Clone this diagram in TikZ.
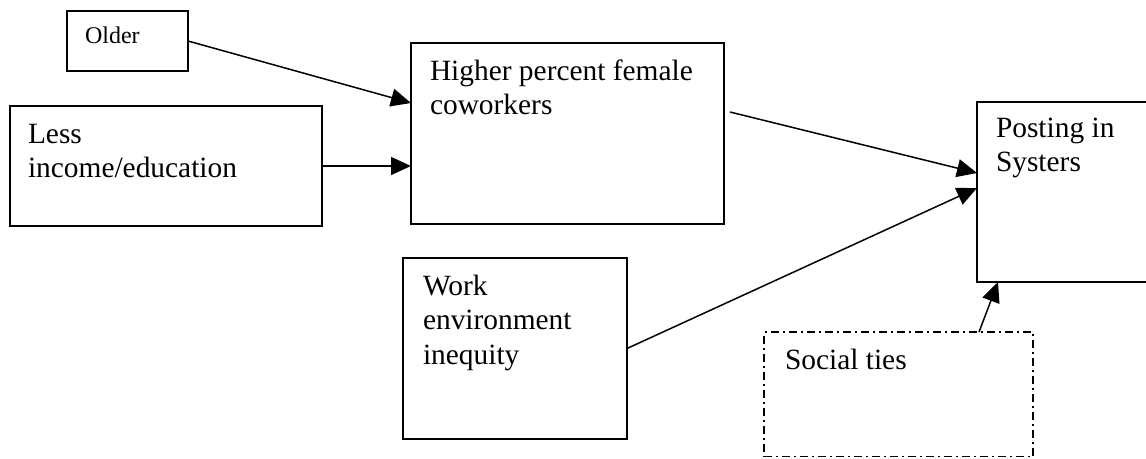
\documentclass[tikz,border=0pt]{standalone}
\usepackage{fontspec}
\setmainfont{Liberation Serif}
\usetikzlibrary{arrows.meta,calc}
\begin{document}
\begin{tikzpicture}[x=1pt,y=-1pt,
  box/.style={draw=black,line width=1.5pt,rectangle,inner sep=0pt,outer sep=0pt,anchor=north west},
  dashbox/.style={box,dash pattern=on 8pt off 4pt on 2pt off 4pt},
  lbl/.style={inner sep=0pt,outer sep=0pt,anchor=base west,align=left,font=\fontsize{29.4}{34.5}\selectfont},
  smalllbl/.style={lbl,font=\fontsize{24}{28}\selectfont},
  arr/.style={line width=1.5pt,-{Triangle[length=20pt,width=18pt]}}]
\useasboundingbox (0,0) rectangle (1146,458);
\node[box,minimum width=121pt,minimum height=60pt] (older) at (67,11) {};
\node[box,minimum width=312pt,minimum height=120pt] (less) at (10,106) {};
\node[box,minimum width=313pt,minimum height=181pt] (higher) at (411,43) {};
\node[box,minimum width=200pt,minimum height=180pt] (posting) at (977,102) {};
\node[box,minimum width=224pt,minimum height=181pt] (work) at (403,258) {};
\node[dashbox,minimum width=269pt,minimum height=124.5pt] (social) at (764,332) {};
\node[smalllbl] (olderT) at ($(older.north west)+(18,32)$) {Older};
\node[lbl] (lessT) at ($(less.north west)+(18,71.5)$) {Less\\income/education};
\node[lbl] (higherT) at ($(higher.north west)+(19,71.5)$) {Higher percent female\\coworkers};
\node[lbl] (postingT) at ($(posting.north west)+(19,69.5)$) {Posting in\\Systers};
\node[lbl] (workT) at ($(work.north west)+(20,106)$) {Work\\environment\\inequity};
\node[lbl] (socialT) at ($(social.north west)+(21,37)$) {Social ties};
\draw[arr] (older.east) -- ($(higher.north west)+(0,60)$);
\draw[arr] (less.east) -- (less.east -| higher.west);
\draw[arr] ($(higher.north east)+(6,69)$) -- ($(posting.north west)+(0,71)$);
\draw[arr] (work.east) -- ($(posting.north west)+(0,86)$);
\draw[arr] ($(social.north west)+(215,0)$) -- ($(posting.south west)+(21,0)$);
\end{tikzpicture}
\end{document}
